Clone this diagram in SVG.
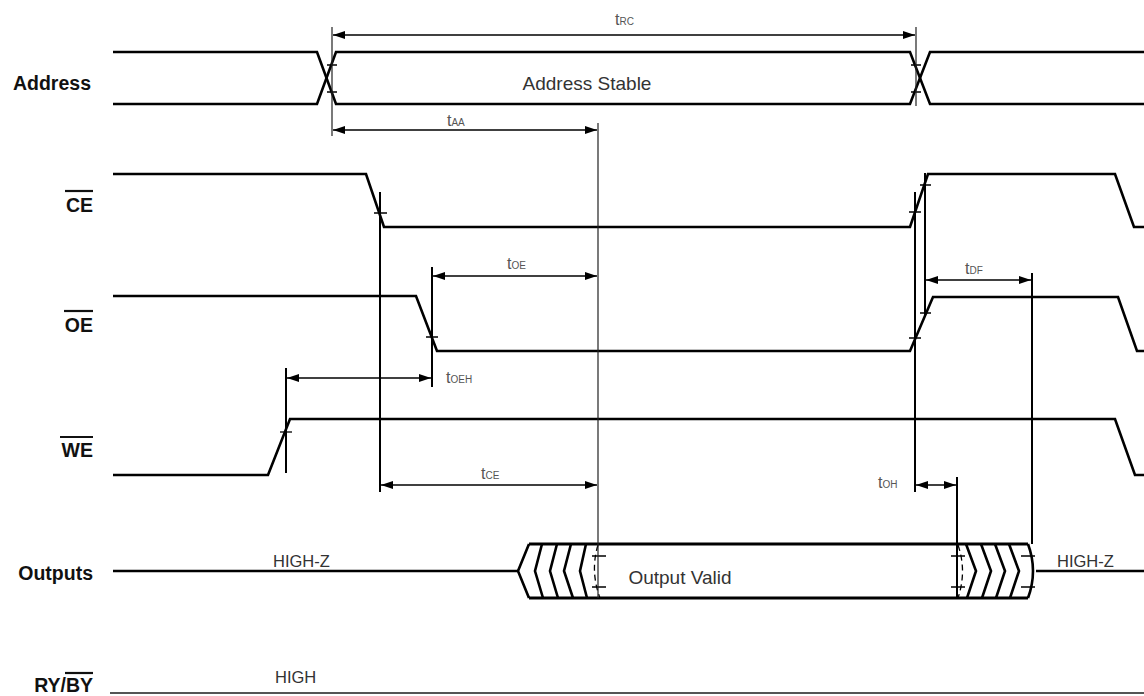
<svg xmlns="http://www.w3.org/2000/svg" width="1144" height="696" viewBox="0 0 1144 696">
<style>
.sig{fill:none;stroke:#000;stroke-width:2.6;stroke-linejoin:miter}
.bus{fill:none;stroke:#000;stroke-width:3}
.ref{fill:none;stroke:#000;stroke-width:2}
.thin{fill:none;stroke:#222;stroke-width:1.2}
.tick{fill:none;stroke:#000;stroke-width:1.3}
.dim{fill:none;stroke:#000;stroke-width:1.6;marker-start:url(#ah);marker-end:url(#ah)}
.name{font-family:"Liberation Sans",Arial,sans-serif;font-weight:bold;font-size:19.5px;fill:#111;text-anchor:end}
.lbl{font-family:"Liberation Sans",Arial,sans-serif;font-size:16.5px;fill:#333}
.big{font-family:"Liberation Sans",Arial,sans-serif;font-size:19px;fill:#333;text-anchor:middle}
.tl{font-family:"Liberation Sans",Arial,sans-serif;fill:#555}
.tl .t{font-size:16px}
.tl .s{font-size:10px}
.ol{stroke:#111;stroke-width:2.2}
</style>
<defs>
<marker id="ah" viewBox="0 0 12 8" refX="12" refY="4" markerWidth="12" markerHeight="8" orient="auto-start-reverse" markerUnits="userSpaceOnUse">
<path d="M0,0 L12,4 L0,8 z" fill="#000"/>
</marker>
</defs>
<rect width="1144" height="696" fill="#fff"/>

<g id="labels">
<text class="name" x="91" y="90">Address</text>
<text class="name" x="93" y="212">CE</text><line class="ol" x1="65" y1="191" x2="93" y2="191"/>
<text class="name" x="93" y="332">OE</text><line class="ol" x1="64" y1="311" x2="93" y2="311"/>
<text class="name" x="93" y="457">WE</text><line class="ol" x1="60" y1="437" x2="93" y2="437"/>
<text class="name" x="93" y="580">Outputs</text>
<text class="name" x="93" y="692">RY/BY</text><line class="ol" x1="65" y1="673" x2="93" y2="673"/>
</g>

<g id="address">
<path class="sig" d="M113,52 H317 L336,104 H910 L930,52 H1144"/>
<path class="sig" d="M113,104 H317 L336,52 H910 L930,104 H1144"/>
<path class="tick" d="M327,65 H337 M327,92 H337 M911,65 H921 M911,92 H921"/>
<text class="big" x="587" y="90">Address Stable</text>
</g>

<g id="ce">
<path class="sig" d="M113,174 H366 L384,227 H910 L928,174 H1115 L1134,227 H1144"/>
<path class="tick" d="M374,213 H387 M909,212 H921 M920,185 H931"/>
</g>

<g id="oe">
<path class="sig" d="M113,296 H416 L437,351 H910 L933,297 H1118 L1137,351 H1144"/>
<path class="tick" d="M426,337 H438 M909,338 H921 M920,313 H931"/>
</g>

<g id="we">
<path class="sig" d="M113,475 H268 L290,419 H1115 L1135,475 H1144"/>
<path class="tick" d="M280,432 H292"/>
</g>

<g id="outputs">
<path class="sig" d="M113,571 H518"/>
<path class="bus" d="M529,544 H1028 M529,598 H1028"/>
<path class="sig" d="M529,544 L518,571 L529,598"/>
<path class="sig" d="M542,544 L535,571 L543,598 M557,544 L550,571 L558,598 M571,544 L564,571 L573,598 M586,544 L580,571 L587,598"/>
<path class="tick" d="M598,545 Q590,571 600,598" stroke-dasharray="6,4"/>
<path class="tick" d="M592,556 H606 M592,587 H606"/>
<path class="sig" d="M966,544 L976,571 L967,598 M981,544 L991,571 L982,598 M995,544 L1005,571 L996,598 M1009,544 L1019,571 L1010,598"/>
<path class="tick" d="M958,545 Q967,571 958,598" stroke-dasharray="6,4"/>
<path class="tick" d="M951,556 H965 M951,587 H965 M1021,556 H1035 M1021,587 H1035"/>
<path class="sig" d="M1028,544 Q1038,571 1028,598"/>
<path class="sig" d="M1036,571 H1144"/>
<text class="lbl" x="273" y="567">HIGH-Z</text>
<text class="lbl" x="1057" y="567">HIGH-Z</text>
<text class="big" x="680" y="584">Output Valid</text>
</g>

<g id="rybybus">
<path fill="none" stroke="#555" stroke-width="2" d="M110,693 H1144"/>
<text class="lbl" x="275" y="683">HIGH</text>
</g>

<g id="connectors">
<path class="thin" d="M332,27 V136 M916,27 V106 M598,123 V598"/>
<path class="ref" d="M380,192 V492 M432,267 V387 M286,368 V473 M915,192 V492 M925,173 V317 M1032,273 V544 M957,477 V598"/>
<line class="dim" x1="333" y1="35" x2="915" y2="35"/>
<line class="dim" x1="333" y1="130" x2="597" y2="130"/>
<line class="dim" x1="433" y1="276" x2="597" y2="276"/>
<line class="dim" x1="287" y1="378" x2="431" y2="378"/>
<line class="dim" x1="381" y1="485" x2="597" y2="485"/>
<line class="dim" x1="926" y1="280" x2="1031" y2="280"/>
<line class="dim" x1="916" y1="485" x2="956" y2="485"/>
<text class="tl" x="615" y="25"><tspan class="t">t</tspan><tspan class="s">RC</tspan></text>
<text class="tl" x="447" y="126"><tspan class="t">t</tspan><tspan class="s">AA</tspan></text>
<text class="tl" x="507" y="269"><tspan class="t">t</tspan><tspan class="s">OE</tspan></text>
<text class="tl" x="446" y="383"><tspan class="t">t</tspan><tspan class="s">OEH</tspan></text>
<text class="tl" x="481" y="479"><tspan class="t">t</tspan><tspan class="s">CE</tspan></text>
<text class="tl" x="965" y="274"><tspan class="t">t</tspan><tspan class="s">DF</tspan></text>
<text class="tl" x="878" y="488"><tspan class="t">t</tspan><tspan class="s">OH</tspan></text>
</g>
</svg>
